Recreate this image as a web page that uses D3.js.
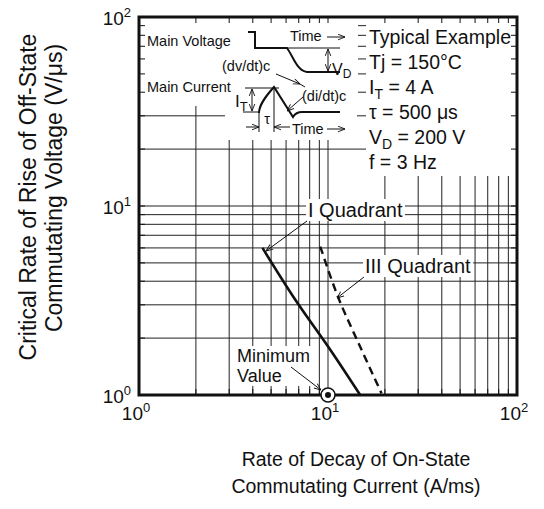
<!DOCTYPE html>
<html>
<head>
<meta charset="utf-8">
<script src="https://cdn.jsdelivr.net/npm/d3@7"></script>
<style>
  body { margin: 0; background: #fff; }
  svg { display: block; font-family: "Liberation Sans", Arial, Helvetica, sans-serif; }
</style>
</head>
<body>
<div id="chart"></div>
<script>
// decades shown on both axes (10^0 .. 10^2)
var xExponents = [0, 1, 2];
var yExponents = [0, 1, 2];
var gridValues = [2, 3, 4, 5, 6, 7, 8, 9, 10, 20, 30, 40, 50, 60, 70, 80, 90];

// (dI/dt)c [A/ms] vs critical (dv/dt)c [V/us]
var quadrantI   = [[4.5, 6.0], [6.7, 3.2], [10.3, 1.73], [14.8, 1.0]];
var quadrantIII = [[9.1, 6.1], [11.3, 3.3], [14.8, 1.8], [19.2, 1.02]];
var minimumValue = [10, 1];

// condition block, [text, 'sub'] parts
var conditions = [
  [['Typical Example']],
  [['Tj = 150°C']],
  [['I'], ['T', 'sub'], [' = 4 A']],
  [['τ = 500 μs']],
  [['V'], ['D', 'sub'], [' = 200 V']],
  [['f = 3 Hz']]
];

var xTitle = ['Rate of Decay of On-State', 'Commutating Current  (A/ms)'];
var yTitle = ['Critical Rate of Rise of Off-State', 'Commutating Voltage   (V/μs)'];

var W = 544, H = 509;
var L = 139, R = 517, T = 17, B = 395;
var INK = '#111';

var svg = d3.select('#chart').append('svg')
  .attr('width', W).attr('height', H)
  .style('background', '#fff');

var defs = svg.append('defs');
defs.append('marker')
  .attr('id', 'arr')
  .attr('viewBox', '0 0 10 10')
  .attr('refX', 10).attr('refY', 5)
  .attr('markerWidth', 7).attr('markerHeight', 7)
  .attr('markerUnits', 'userSpaceOnUse')
  .attr('orient', 'auto-start-reverse')
  .append('path')
  .attr('d', 'M0,1 L10,5 L0,9')
  .attr('fill', 'none').attr('stroke', INK).attr('stroke-width', 1.3);

var x = d3.scaleLog().domain([1, 100]).range([L, R]);
var y = d3.scaleLog().domain([1, 100]).range([B, T]);

// grid
var grid = svg.append('g').attr('stroke', '#222').attr('stroke-width', 1);
grid.selectAll('.vx').data(gridValues).join('line')
  .attr('x1', function (d) { return x(d); }).attr('x2', function (d) { return x(d); })
  .attr('y1', T).attr('y2', B);
grid.selectAll('.hy').data(gridValues).join('line')
  .attr('y1', function (d) { return y(d); }).attr('y2', function (d) { return y(d); })
  .attr('x1', L).attr('x2', R);

// white areas behind the inset drawing and the condition text
var masks = svg.append('g').attr('fill', '#fff');
masks.append('rect').attr('x', L + 1).attr('y', T + 1).attr('width', 357 - L).attr('height', 105 - T);
masks.append('rect').attr('x', 225).attr('y', 104).attr('width', 132).attr('height', 36);
masks.append('rect').attr('x', 366).attr('y', T + 1).attr('width', R - 366 - 1).attr('height', 175 - T);

// inward ticks on all sides
var ticks = svg.append('g').attr('stroke', INK).attr('stroke-width', 1);
var tl = 6;
ticks.selectAll('.tt').data(gridValues).join('line')
  .attr('x1', function (d) { return x(d); }).attr('x2', function (d) { return x(d); })
  .attr('y1', T).attr('y2', T + tl);
ticks.selectAll('.tb').data(gridValues).join('line')
  .attr('x1', function (d) { return x(d); }).attr('x2', function (d) { return x(d); })
  .attr('y1', B).attr('y2', B - tl);
ticks.selectAll('.tlft').data(gridValues).join('line')
  .attr('y1', function (d) { return y(d); }).attr('y2', function (d) { return y(d); })
  .attr('x1', L).attr('x2', L + tl);
ticks.selectAll('.tr').data(gridValues).join('line')
  .attr('y1', function (d) { return y(d); }).attr('y2', function (d) { return y(d); })
  .attr('x1', R).attr('x2', R - tl);

// labels with white boxes (boxes go in below the text)
var labelLayer = svg.append('g');
function boxedText(g, tx, ty, size, lines, lh) {
  var t = g.append('text').attr('x', tx).attr('y', ty)
    .attr('font-size', size).attr('fill', INK);
  lines.forEach(function (s, i) {
    t.append('tspan').attr('x', tx).attr('dy', i ? lh : 0).text(s);
  });
  var bb = t.node().getBBox();
  g.insert('rect', 'text')
    .attr('x', bb.x - 2).attr('y', bb.y)
    .attr('width', bb.width + 4).attr('height', bb.height)
    .attr('fill', '#fff');
  return t;
}
boxedText(labelLayer, 308, 217, 20, ['I Quadrant']);
boxedText(labelLayer, 365, 273, 20, ['III Quadrant']);
boxedText(labelLayer, 237, 362, 18, ['Minimum', 'Value'], 20);

// frame
svg.append('rect')
  .attr('x', L).attr('y', T).attr('width', R - L).attr('height', B - T)
  .attr('fill', 'none').attr('stroke', INK).attr('stroke-width', 3);

// curves
var line = d3.line()
  .x(function (d) { return x(d[0]); })
  .y(function (d) { return y(d[1]); })
  .curve(d3.curveCatmullRom);

svg.append('path').datum(quadrantI).attr('d', line)
  .attr('fill', 'none').attr('stroke', INK).attr('stroke-width', 2.6);
svg.append('path').datum(quadrantIII).attr('d', line)
  .attr('fill', 'none').attr('stroke', INK).attr('stroke-width', 2.4)
  .attr('stroke-dasharray', '8,5');

// minimum value marker
svg.append('circle').attr('cx', x(minimumValue[0])).attr('cy', y(minimumValue[1])).attr('r', 7)
  .attr('fill', '#fff').attr('stroke', INK).attr('stroke-width', 1.5);
svg.append('circle').attr('cx', x(minimumValue[0])).attr('cy', y(minimumValue[1])).attr('r', 3)
  .attr('fill', INK);

// leader lines
var leaders = svg.append('g').attr('stroke', INK).attr('stroke-width', 1).attr('fill', 'none');
function leader(g, x1, y1, x2, y2) {
  g.append('line').attr('x1', x1).attr('y1', y1).attr('x2', x2).attr('y2', y2)
    .attr('marker-end', 'url(#arr)');
}
leader(leaders, 307, 221, 266, 251);
leader(leaders, 364, 277, 337, 298);
leader(leaders, 291, 367, 321, 390);

// inset: commutation waveforms
var inset = svg.append('g').attr('fill', 'none').attr('stroke', INK);
var small = 14.5;
inset.append('path').attr('stroke-width', 2)
  .attr('d', 'M248,32 H255 V48 H287 C293,56 297,71 307,72 H340');
inset.append('line').attr('x1', 287).attr('x2', 340).attr('y1', 48).attr('y2', 48).attr('stroke-width', 1);
inset.append('line').attr('x1', 328).attr('x2', 328).attr('y1', 49).attr('y2', 71).attr('stroke-width', 1)
  .attr('marker-start', 'url(#arr)').attr('marker-end', 'url(#arr)');
inset.append('line').attr('x1', 327).attr('x2', 345).attr('y1', 37).attr('y2', 37).attr('stroke-width', 1)
  .attr('marker-end', 'url(#arr)');
inset.append('line').attr('x1', 276).attr('y1', 74).attr('x2', 300).attr('y2', 84).attr('stroke-width', 1)
  .attr('marker-end', 'url(#arr)');
inset.append('line').attr('x1', 300).attr('y1', 84).attr('x2', 305).attr('y2', 87).attr('stroke-width', 1);

// current waveform
inset.append('line').attr('x1', 245).attr('x2', 279).attr('y1', 88).attr('y2', 88).attr('stroke-width', 1);
inset.append('line').attr('x1', 243).attr('x2', 259).attr('y1', 112).attr('y2', 112).attr('stroke-width', 1);
inset.append('line').attr('x1', 252).attr('x2', 252).attr('y1', 89).attr('y2', 111).attr('stroke-width', 1)
  .attr('marker-start', 'url(#arr)').attr('marker-end', 'url(#arr)');
inset.append('path').attr('stroke-width', 2)
  .attr('d', 'M259,113 C259,105 265,97 274,87 L293,117 Q296,112 302,112 H340');
inset.append('line').attr('x1', 259).attr('x2', 259).attr('y1', 112).attr('y2', 132).attr('stroke-width', 1);
inset.append('line').attr('x1', 274).attr('x2', 274).attr('y1', 88).attr('y2', 132).attr('stroke-width', 1);
inset.append('line').attr('x1', 246).attr('x2', 259).attr('y1', 127).attr('y2', 127).attr('stroke-width', 1)
  .attr('marker-end', 'url(#arr)');
inset.append('line').attr('x1', 290).attr('x2', 274).attr('y1', 127).attr('y2', 127).attr('stroke-width', 1)
  .attr('marker-end', 'url(#arr)');
inset.append('line').attr('x1', 327).attr('x2', 345).attr('y1', 129).attr('y2', 129).attr('stroke-width', 1)
  .attr('marker-end', 'url(#arr)');
inset.append('line').attr('x1', 303).attr('y1', 97).attr('x2', 287).attr('y2', 111).attr('stroke-width', 1)
  .attr('marker-end', 'url(#arr)');

var insetText = svg.append('g').attr('font-size', small).attr('fill', INK);
insetText.append('text').attr('x', 147).attr('y', 46).text('Main Voltage');
insetText.append('text').attr('x', 147).attr('y', 92).text('Main Current');
insetText.append('text').attr('x', 290).attr('y', 41).text('Time');
insetText.append('text').attr('x', 292).attr('y', 134).text('Time');
insetText.append('text').attr('x', 222).attr('y', 71).text('(dv/dt)c');
insetText.append('text').attr('x', 302).attr('y', 101).text('(di/dt)c');
insetText.append('text').attr('x', 267).attr('y', 124).attr('text-anchor', 'middle').text('τ');
var vd = insetText.append('text').attr('x', 332).attr('y', 75).attr('font-size', 16);
vd.append('tspan').text('V');
vd.append('tspan').attr('font-size', 12).attr('dy', 3).text('D');
var it = insetText.append('text').attr('x', 235).attr('y', 107).attr('font-size', 17);
it.append('tspan').text('I');
it.append('tspan').attr('font-size', 13).attr('dy', 4).text('T');

// condition block
var cond = svg.append('g').attr('font-size', 19.5).attr('fill', INK);
conditions.forEach(function (parts, i) {
  var t = cond.append('text').attr('x', 369).attr('y', 44 + i * 25);
  var shifted = false;
  parts.forEach(function (p) {
    var s = t.append('tspan').text(p[0]);
    if (p[1] === 'sub') { s.attr('font-size', 14).attr('dy', 5); shifted = true; }
    else if (shifted) { s.attr('dy', -5); shifted = false; }
  });
});

// tick labels 10^n
var tickText = svg.append('g').attr('fill', INK);
xExponents.forEach(function (e) {
  var t = tickText.append('text').attr('x', x(Math.pow(10, e)) - 3).attr('y', 420)
    .attr('text-anchor', 'middle').attr('font-size', 19);
  t.append('tspan').text('10');
  t.append('tspan').attr('font-size', 13).attr('dy', -8).text(e);
});
yExponents.forEach(function (e) {
  var t = tickText.append('text').attr('x', 131).attr('y', y(Math.pow(10, e)) + 8)
    .attr('text-anchor', 'end').attr('font-size', 19);
  t.append('tspan').text('10');
  t.append('tspan').attr('font-size', 13).attr('dy', -8).text(e);
});

// axis titles
var titles = svg.append('g').attr('fill', INK).attr('text-anchor', 'middle');
xTitle.forEach(function (s, i) {
  titles.append('text').attr('x', 356).attr('y', 466 + i * 27)
    .attr('font-size', 19.5).text(s);
});
yTitle.forEach(function (s, i) {
  titles.append('text')
    .attr('transform', 'translate(' + (36 + i * 26) + ',' + (197 - i * 9) + ') rotate(-90)')
    .attr('font-size', 23).text(s);
});
</script>
</body>
</html>
